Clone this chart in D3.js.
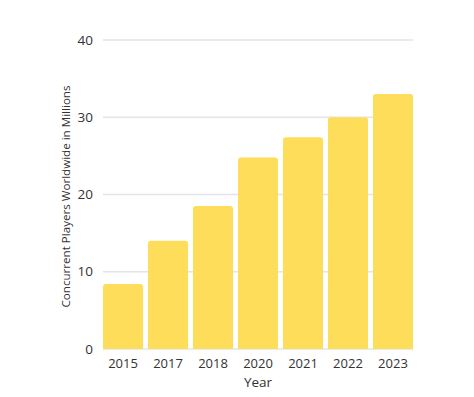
<!DOCTYPE html>
<html>
<head>
<meta charset="utf-8">
<script src="https://cdn.jsdelivr.net/npm/d3@7"></script>
<style>
  body { margin: 0; background: #fff; }
  svg text { font-family: "Open Sans", sans-serif; fill: #333; }
</style>
</head>
<body>
<div id="chart"></div>
<script>
var years = ['2015', '2017', '2018', '2020', '2021', '2022', '2023']
var players = [8.4, 14.0, 18.5, 24.8, 27.4, 30.0, 33.0]
var yTicks = [0, 10, 20, 30, 40]

var width = 474, height = 397
var margin = {top: 40, right: 61, bottom: 48, left: 103}

var svg = d3.select("#chart").append("svg").attr("width", width).attr("height", height)

var x = d3.scaleBand().domain(years).range([margin.left, width - margin.right]).paddingInner(0.11).paddingOuter(0)
var y = d3.scaleLinear().domain([0, 40]).range([height - margin.bottom, margin.top])

// gridlines
svg.append("g").selectAll("line").data(yTicks).enter().append("line")
  .attr("x1", margin.left).attr("x2", width - margin.right)
  .attr("y1", function(d) { return y(d) }).attr("y2", function(d) { return y(d) })
  .attr("stroke", "#e2e4ea").attr("stroke-width", 1.5)

// y tick labels
svg.append("g").selectAll("text").data(yTicks).enter().append("text")
  .attr("x", margin.left - 10).attr("y", function(d) { return y(d) })
  .attr("dy", "0.35em").attr("text-anchor", "end").attr("font-size", 13.5)
  .text(function(d) { return d })

// bars with rounded tops
var r = 3
svg.append("g").selectAll("path").data(players).enter().append("path")
  .attr("fill", "#fedd5a")
  .attr("d", function(d, i) {
    var x0 = x(years[i]), w = x.bandwidth(), y0 = y(d), y1 = y(0)
    return "M" + x0 + "," + y1 + "V" + (y0 + r) + "Q" + x0 + "," + y0 + " " + (x0 + r) + "," + y0 +
      "H" + (x0 + w - r) + "Q" + (x0 + w) + "," + y0 + " " + (x0 + w) + "," + (y0 + r) + "V" + y1 + "Z"
  })

// x labels
svg.append("g").selectAll("text").data(years).enter().append("text")
  .attr("x", function(d) { return x(d) + x.bandwidth() / 2 }).attr("y", y(0) + 14)
  .attr("dy", "0.35em").attr("text-anchor", "middle").attr("font-size", 13)
  .text(function(d) { return d })

// axis titles
svg.append("text").attr("x", (margin.left + width - margin.right) / 2).attr("y", y(0) + 33)
  .attr("dy", "0.35em").attr("text-anchor", "middle").attr("font-size", 13.5).text("Year")

svg.append("text").attr("transform", "translate(66,196.5) rotate(-90)")
  .attr("dy", "0.35em").attr("text-anchor", "middle").attr("font-size", 11.6)
  .text("Concurrent Players Worldwide in Millions")
</script>
</body>
</html>
